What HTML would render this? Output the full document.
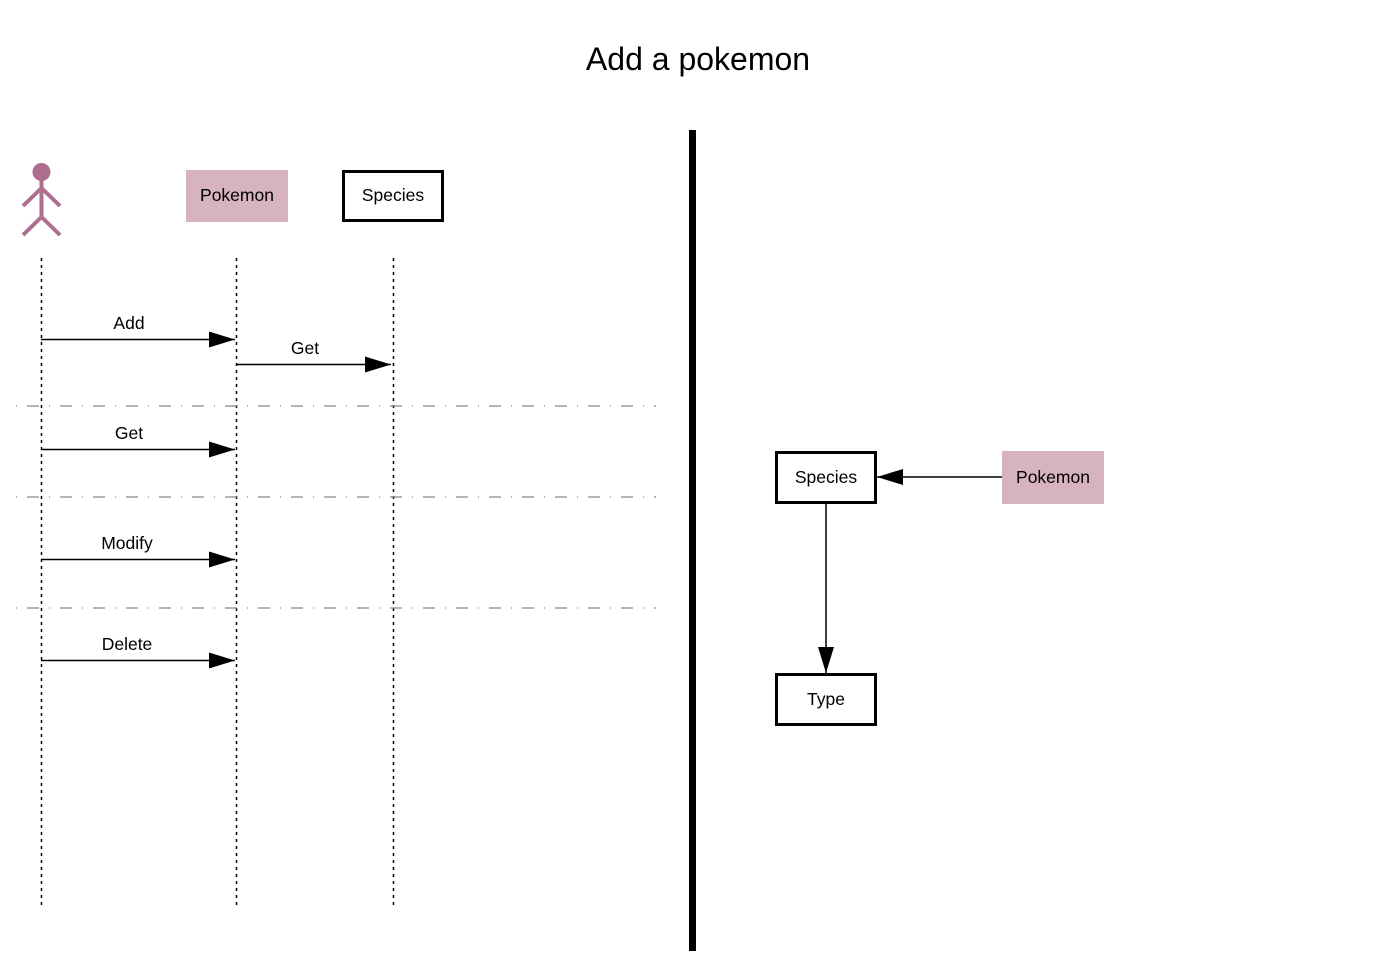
<!DOCTYPE html>
<html><head><meta charset="utf-8"><style>html,body{margin:0;padding:0;background:#fff}svg{display:block}</style></head>
<body>
<svg width="1396" height="976" xmlns="http://www.w3.org/2000/svg" font-family="Liberation Sans, sans-serif">
<defs>
<marker id="a" markerWidth="26" markerHeight="16" refX="26" refY="8" orient="auto" markerUnits="userSpaceOnUse"><path d="M0,0 L26,8 L0,16 Z" fill="#000"/></marker>
</defs>
<text x="698" y="70" font-size="32" text-anchor="middle">Add a pokemon</text>
<rect x="689" y="130" width="7" height="821" fill="#000"/>
<g stroke="#ad6e8f" stroke-width="4" fill="none" stroke-linecap="butt">
<circle cx="41.5" cy="172" r="9" fill="#ad6e8f" stroke="none"/>
<line x1="41.5" y1="180" x2="41.5" y2="217"/>
<line x1="23" y1="206" x2="41.5" y2="188"/><line x1="60" y1="206" x2="41.5" y2="188"/>
<line x1="23" y1="235" x2="41.5" y2="217"/><line x1="60" y1="235" x2="41.5" y2="217"/>
</g>
<rect x="186" y="170" width="102" height="52" fill="#d7b3c2"/>
<text x="237" y="201" font-size="17.5" text-anchor="middle">Pokemon</text>
<rect x="343.5" y="171.5" width="99" height="49" fill="#fff" stroke="#000" stroke-width="3"/>
<text x="393" y="201" font-size="17.5" text-anchor="middle">Species</text>
<g stroke="#000" stroke-width="1.5" stroke-dasharray="3,4">
<line x1="41.5" y1="258" x2="41.5" y2="908"/>
<line x1="236.5" y1="258" x2="236.5" y2="908"/>
<line x1="393.5" y1="258" x2="393.5" y2="908"/>
</g>
<g stroke="#888" stroke-width="1.2" stroke-dasharray="1,10,12,10">
<line x1="16" y1="406" x2="656" y2="406"/>
<line x1="16" y1="497" x2="656" y2="497"/>
<line x1="16" y1="608" x2="656" y2="608"/>
</g>
<g stroke="#000" stroke-width="1.5" marker-end="url(#a)">
<line x1="41" y1="339.5" x2="235" y2="339.5"/>
<line x1="237" y1="364.5" x2="391" y2="364.5"/>
<line x1="41" y1="449.5" x2="235" y2="449.5"/>
<line x1="41" y1="559.5" x2="235" y2="559.5"/>
<line x1="41" y1="660.5" x2="235" y2="660.5"/>
</g>
<g font-size="17.5" text-anchor="middle">
<text x="129" y="329">Add</text>
<text x="305" y="354">Get</text>
<text x="129" y="439">Get</text>
<text x="127" y="549">Modify</text>
<text x="127" y="650">Delete</text>
</g>
<rect x="776.5" y="452.5" width="99" height="50" fill="#fff" stroke="#000" stroke-width="3"/>
<text x="826" y="483" font-size="17.5" text-anchor="middle">Species</text>
<rect x="1002" y="451" width="102" height="53" fill="#d7b3c2"/>
<text x="1053" y="483" font-size="17.5" text-anchor="middle">Pokemon</text>
<rect x="776.5" y="674.5" width="99" height="50" fill="#fff" stroke="#000" stroke-width="3"/>
<text x="826" y="705" font-size="17.5" text-anchor="middle">Type</text>
<g stroke="#000" stroke-width="1.5" marker-end="url(#a)">
<line x1="1002" y1="477" x2="877" y2="477"/>
<line x1="826" y1="504" x2="826" y2="673"/>
</g>
</svg>
</body></html>
